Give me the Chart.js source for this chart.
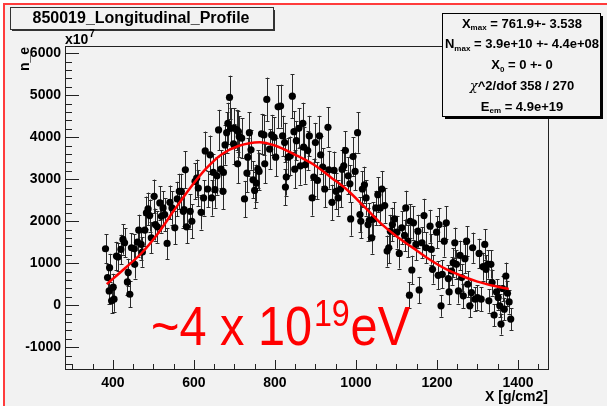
<!DOCTYPE html>
<html>
<head>
<meta charset="utf-8">
<script src="https://cdn.jsdelivr.net/npm/chart.js@4.4.0/dist/chart.umd.min.js"></script>
<style>
  html, body { margin: 0; padding: 0; background: #fff; }
  canvas { display: block; }
</style>
</head>
<body>
<canvas id="myChart" width="607" height="406"></canvas>
<script>
// [depth g/cm2, n_e / 1e7, error]
const profileRise = [[382,1343,340],[387,656,320],[391,339,310],[392,893,330],[397,102,300],[401,427,320],[403,142,300],[409,1168,340],[413,1145,330],[420,1327,350],[425,1564,360],[429,1486,350],[436,552,320],[438,775,330],[442,260,310],[446,1367,350],[453,1343,350],[454,972,340],[461,1500,360],[464,1784,370],[470,1445,360],[473,1263,350],[479,1784,370],[483,2196,390],[487,2291,390],[491,2133,380],[495,1604,370],[502,2590,400],[505,1919,380],[510,1864,380],[516,2433,400],[520,2116,390],[524,2315,400],[528,2156,390],[534,1469,370],[541,2448,400],[546,2315,400],[553,1841,390],[559,2528,410],[564,2709,420]]
const profileClimb = [[569,2709,420],[574,2235,400],[576,2275,400],[579,3223,440],[582,1864,390],[591,2235,410],[595,1998,400],[603,2946,430],[607,3025,440],[611,2789,430],[618,2211,410],[624,2552,420],[628,3673,460],[634,2765,430],[640,3578,460],[644,2552,420],[648,3159,450],[652,2749,430],[657,3081,450],[661,4171,480],[667,3238,450],[672,2709,430],[673,3159,450],[677,3815,470],[681,4107,480],[684,4329,490],[688,4945,520],[691,4210,480],[698,3839,470],[700,4210,480],[706,4171,480],[708,3365,460],[710,4131,480],[712,4012,480],[718,3975,480],[725,2528,430],[731,3144,450],[733,3524,460],[737,4107,480],[741,3697,470],[746,2986,440],[750,2732,430],[754,2907,440],[758,3238,450],[761,3183,450],[767,4076,480]]
const profilePeak = [[773,4052,480],[775,3365,460],[780,4898,520],[787,3713,470],[792,4052,480],[798,3997,480],[802,3524,460],[808,4723,510],[814,4739,510],[819,4028,480],[824,3870,470],[826,2813,430],[828,3050,440],[833,3524,460],[838,3555,460],[843,4976,520],[847,4131,480],[849,3238,450],[853,3917,470],[859,4210,480],[863,3318,450],[869,4329,490],[871,3761,470],[875,3341,450],[881,3680,460],[885,4028,480],[892,2552,420],[896,3050,440],[900,3870,470],[905,2969,440],[910,4028,480],[913,3578,460],[918,3287,450],[923,2765,430],[931,4234,480],[933,3223,450],[941,2448,420],[946,3207,450],[951,2709,430],[956,2552,420],[962,2765,430],[966,3238,450],[970,3318,450],[974,3680,460],[981,3081,440],[985,2891,440],[987,2054,400]]
const profileFall = [[993,3538,460],[998,3183,450],[1004,4107,480],[1010,2156,410],[1012,1998,400],[1016,2765,430],[1021,2867,430],[1025,2552,420],[1030,1919,400],[1033,2022,400],[1039,1604,380],[1043,2054,400],[1049,2315,410],[1054,2630,420],[1060,2315,410],[1064,2765,430],[1071,2370,410],[1077,1287,370],[1081,1367,370],[1085,1761,390],[1090,1919,400],[1095,2054,400],[1101,1737,390],[1107,1232,360],[1113,1841,390],[1120,1659,380],[1123,2315,410],[1128,1524,380],[1132,237,310],[1134,1998,400],[1138,837,340],[1142,1960,400],[1148,1445,370],[1153,1761,390],[1156,363,310],[1163,1486,370],[1168,2133,400],[1173,1367,370],[1183,1880,390],[1186,1327,360],[1189,853,340]]
const profileTail = [[1199,1737,380],[1203,711,330],[1205,1919,390],[1210,-16,260],[1213,735,330],[1218,1524,370],[1223,1960,390],[1228,633,320],[1230,316,300],[1236,813,330],[1240,1012,340],[1244,1486,360],[1248,972,340],[1253,339,300],[1257,1185,350],[1261,656,320],[1265,221,290],[1269,1107,340],[1273,1524,360],[1276,498,310],[1281,-16,270],[1285,301,300],[1288,1367,360],[1294,142,290],[1300,182,290],[1304,1232,350],[1309,142,290],[1314,917,330],[1318,1445,360],[1321,853,330],[1325,972,340],[1328,102,280],[1333,972,340],[1336,538,310],[1341,-237,260],[1347,316,300],[1351,182,290],[1355,-16,270],[1358,-450,250],[1362,396,300],[1366,-95,270],[1370,694,320],[1374,284,300],[1378,78,280],[1382,-332,260]]

// fitted Gaisser-Hillas curve
const fitDepth = [385, 430, 470, 510, 550, 590, 630, 670, 710, 762, 800, 850, 900, 940, 980, 1020, 1060, 1100, 1140, 1180, 1220, 1260, 1300, 1340, 1377]
const fitValues = [500, 880, 1230, 1690, 2240, 2780, 3250, 3600, 3790, 3880, 3800, 3580, 3320, 3030, 2730, 2350, 1960, 1640, 1370, 1100, 870, 700, 560, 460, 385]

const xTickValues = [400, 600, 800, 1000, 1200, 1400]
const yTickValues = [-1000, 0, 1000, 2000, 3000, 4000, 5000, 6000]

const statsLines = [
  [['X'], ['max', 1], [' = 761.9+- 3.538']],
  [['N'], ['max', 1], [' = 3.9e+10 +- 4.4e+08']],
  [['X'], ['0', 1], [' = 0 +- 0']],
  [['\u03C7', 2], ['^2/dof 358 / 270']],
  [['E'], ['em', 1], [' = 4.9e+19']]
]

const FONT = '"Liberation Sans", Arial, sans-serif'
const profile = [...profileRise, ...profileClimb, ...profilePeak, ...profileFall, ...profileTail]
const points = profile.map(p => ({ x: p[0], y: p[1], err: p[2] }))
const fitPoints = fitDepth.map((x, i) => ({ x: x, y: fitValues[i] }))

const drawParts = (ctx, parts, cx, cy) => {
  const fontFor = (p) => p[1] === 1 ? 'bold 8px ' + FONT : (p[1] === 2 ? 'italic 13px "DejaVu Serif", serif' : 'bold 13px ' + FONT)
  let w = 0
  parts.forEach(p => { ctx.font = fontFor(p); w += ctx.measureText(p[0]).width })
  let x = cx - w / 2
  parts.forEach(p => {
    ctx.font = fontFor(p)
    ctx.fillText(p[0], x, p[1] === 1 ? cy + 4 : cy)
    x += ctx.measureText(p[0]).width
  })
}

const rootPad = {
  id: 'rootPad',
  beforeDraw(chart) {
    const c = chart.ctx
    c.save()
    c.fillStyle = '#ffffff'
    c.fillRect(0, 0, chart.width, chart.height)
    c.fillStyle = '#f2f2f2'
    c.fillRect(5, 5, chart.width - 5, chart.height - 5)
    c.strokeStyle = '#ff3c3c'
    c.lineWidth = 2
    c.beginPath()
    c.moveTo(4, chart.height)
    c.lineTo(4, 4)
    c.lineTo(chart.width, 4)
    c.stroke()
    c.restore()
  },
  beforeDatasetsDraw(chart) {
    const c = chart.ctx
    const a = chart.chartArea
    const xs = chart.scales.x
    const ys = chart.scales.y
    c.save()
    c.strokeStyle = '#222'
    c.lineWidth = 1
    c.strokeRect(a.left + 0.5, a.top + 0.5, a.right - a.left, a.bottom - a.top)
    c.beginPath()
    for (let v = 300; v <= 1450; v += 50) {
      const px = Math.round(xs.getPixelForValue(v)) + 0.5
      if (px < a.left || px > a.right) continue
      const len = v % 200 === 0 ? 9 : 5
      c.moveTo(px, a.bottom)
      c.lineTo(px, a.bottom - len)
    }
    for (let v = -1400; v <= 6000; v += 200) {
      const py = Math.round(ys.getPixelForValue(v)) + 0.5
      const len = v % 1000 === 0 ? 14 : 7
      c.moveTo(a.left, py)
      c.lineTo(a.left + len, py)
    }
    c.stroke()

    // error bars
    c.beginPath()
    c.rect(a.left, a.top, a.right - a.left, a.bottom - a.top)
    c.clip()
    c.strokeStyle = '#2a2a2a'
    c.beginPath()
    points.forEach(p => {
      const px = Math.round(xs.getPixelForValue(p.x)) + 0.5
      const y1 = ys.getPixelForValue(p.y + p.err)
      const y2 = ys.getPixelForValue(p.y - p.err)
      c.moveTo(px, y1)
      c.lineTo(px, y2)
      c.moveTo(px - 2, Math.round(y1) + 0.5)
      c.lineTo(px + 2, Math.round(y1) + 0.5)
      c.moveTo(px - 2, Math.round(y2) + 0.5)
      c.lineTo(px + 2, Math.round(y2) + 0.5)
    })
    c.stroke()
    c.restore()
  },
  afterDraw(chart) {
    const c = chart.ctx
    const a = chart.chartArea
    c.save()

    // title box
    c.fillStyle = '#333'
    c.fillRect(12, 29, 263, 2)
    c.fillRect(273, 10, 2, 21)
    c.fillStyle = '#f2f2f2'
    c.fillRect(10, 8, 263, 22)
    c.strokeStyle = '#333'
    c.lineWidth = 1
    c.strokeRect(10.5, 7.5, 263, 22)
    c.fillStyle = '#000'
    c.font = 'bold 16px ' + FONT
    c.textAlign = 'center'
    c.textBaseline = 'middle'
    c.fillText('850019_Longitudinal_Profile', 141, 19)

    // stats box
    c.fillStyle = '#000'
    c.fillRect(445, 116, 158, 3)
    c.fillRect(600, 16, 3, 103)
    c.fillStyle = '#f2f2f2'
    c.fillRect(442, 13, 158, 103)
    c.strokeStyle = '#000'
    c.strokeRect(442.5, 13.5, 158, 103)
    c.fillStyle = '#000'
    c.textAlign = 'left'
    statsLines.forEach((line, i) => drawParts(c, line, 522, 24 + i * 20.8))

    // axis titles
    c.font = 'bold 14px ' + FONT
    c.textAlign = 'right'
    c.textBaseline = 'middle'
    c.fillText('X [g/cm2]', a.right, 397)
    c.textAlign = 'left'
    c.textBaseline = 'alphabetic'
    c.fillText('x10', a.left, 44)
    const w10 = c.measureText('x10').width
    c.font = 'bold 10px ' + FONT
    c.fillText('7', a.left + w10 + 1, 37)
    c.save()
    c.translate(25, 47)
    c.rotate(-Math.PI / 2)
    c.font = 'bold 14px ' + FONT
    c.textAlign = 'right'
    c.textBaseline = 'middle'
    c.fillText('n_e', 0, 0)
    c.restore()

    // energy annotation, narrowed Liberation Sans
    c.fillStyle = '#ff0000'
    c.textAlign = 'left'
    c.textBaseline = 'alphabetic'
    c.translate(151, 0)
    c.scale(0.87, 1)
    const big = '56px ' + FONT
    c.font = big
    let x = 0
    c.fillText('~4 x 10', x, 345)
    x += c.measureText('~4 x 10').width
    c.font = '37px ' + FONT
    c.fillText('19', x + 2, 326)
    x += c.measureText('19').width + 3
    c.font = big
    c.fillText('eV', x, 345)
    c.restore()
  }
}

const ctx = document.getElementById('myChart')

new Chart(ctx, {
  type: 'scatter',
  data: {
    datasets: [{
      label: 'fit',
      data: fitPoints,
      showLine: true,
      borderColor: '#ff0000',
      borderWidth: 2.5,
      pointRadius: 0,
      cubicInterpolationMode: 'monotone',
      order: 0
    }, {
      label: 'n_e',
      data: points,
      backgroundColor: '#000',
      borderColor: '#000',
      borderWidth: 0,
      pointRadius: 3.6,
      order: 1
    }]
  },
  options: {
    responsive: false,
    animation: false,
    devicePixelRatio: 1,
    layout: { padding: { left: 0, right: 59, top: 46, bottom: 0 } },
    plugins: { legend: { display: false }, tooltip: { enabled: false } },
    scales: {
      x: {
        type: 'linear',
        min: 282,
        max: 1474,
        afterFit: (s) => { s.height = 37 },
        afterBuildTicks: (s) => { s.ticks = xTickValues.map(v => ({ value: v })) },
        grid: { display: false, drawTicks: false },
        border: { display: false },
        ticks: {
          autoSkip: false,
          maxRotation: 0,
          padding: 6,
          color: '#000',
          callback: (v) => String(v),
          font: { family: FONT, weight: 'bold', size: 14 }
        }
      },
      y: {
        min: -1520,
        max: 6170,
        afterFit: (s) => { s.width = 65 },
        afterBuildTicks: (s) => { s.ticks = yTickValues.map(v => ({ value: v })) },
        grid: { display: false, drawTicks: false },
        border: { display: false },
        ticks: {
          autoSkip: false,
          padding: 4,
          color: '#000',
          callback: (v) => String(v),
          font: { family: FONT, weight: 'bold', size: 14 }
        }
      }
    }
  },
  plugins: [rootPad]
})
</script>
</body>
</html>
